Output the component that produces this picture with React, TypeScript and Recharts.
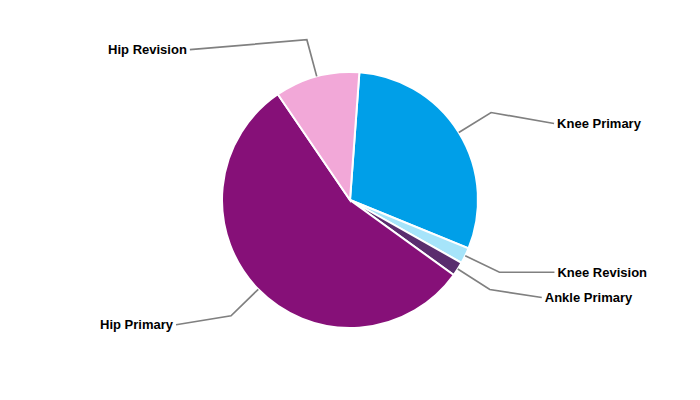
import { PieChart, Pie, Cell } from "recharts";

const categories = ["Knee Primary", "Knee Revision", "Ankle Primary", "Hip Primary", "Hip Revision"];
const shares = [30, 2, 1.8, 55.5, 10.7];
const colors = ["#009FE8", "#A6E4FA", "#5A2D6E", "#861078", "#F2A8D8"];
// leader line end relative to the elbow, per slice (dx, dy)
const labelShift = [
  [63, 11],
  [55, 0],
  [52, 8],
  [-55, 9],
  [-117, 10],
];

const data = categories.map((name, i) => ({ name, value: shares[i] }));

const RADIAN = Math.PI / 180;

const renderLabel = (props: any) => {
  const { cx, cy, midAngle, outerRadius, index, name } = props;
  const cos = Math.cos(-midAngle * RADIAN);
  const sin = Math.sin(-midAngle * RADIAN);
  const x0 = cx + outerRadius * cos;
  const y0 = cy + outerRadius * sin;
  const x1 = cx + (outerRadius + 38) * cos;
  const y1 = cy + (outerRadius + 38) * sin;
  const [dx, dy] = labelShift[index];
  const x2 = x1 + dx;
  const y2 = y1 + dy;
  const right = dx > 0;
  return (
    <g>
      <polyline
        points={`${x0},${y0} ${x1},${y1} ${x2},${y2}`}
        fill="none"
        stroke="#808080"
        strokeWidth={1.7}
      />
      <text
        x={right ? x2 + 3 : x2 - 3}
        y={y2}
        textAnchor={right ? "start" : "end"}
        dominantBaseline="central"
        fill="#000000"
        fontSize={13}
        fontWeight="bold"
        fontFamily="'Liberation Sans', Arial, sans-serif"
      >
        {name}
      </text>
    </g>
  );
};

export default function App() {
  return (
    <div style={{ position: "absolute", left: 0, top: 0, width: 700, height: 400, background: "#fff" }}>
      <PieChart width={700} height={400} margin={{ top: 0, right: 0, bottom: 0, left: 0 }}>
        <Pie
          data={data}
          dataKey="value"
          nameKey="name"
          cx={350}
          cy={200}
          outerRadius={128}
          startAngle={85.8}
          endAngle={-274.2}
          stroke="#ffffff"
          strokeWidth={2}
          label={renderLabel}
          labelLine={false}
          isAnimationActive={false}
        >
          {data.map((d, i) => (
            <Cell key={d.name} fill={colors[i]} />
          ))}
        </Pie>
      </PieChart>
    </div>
  );
}
